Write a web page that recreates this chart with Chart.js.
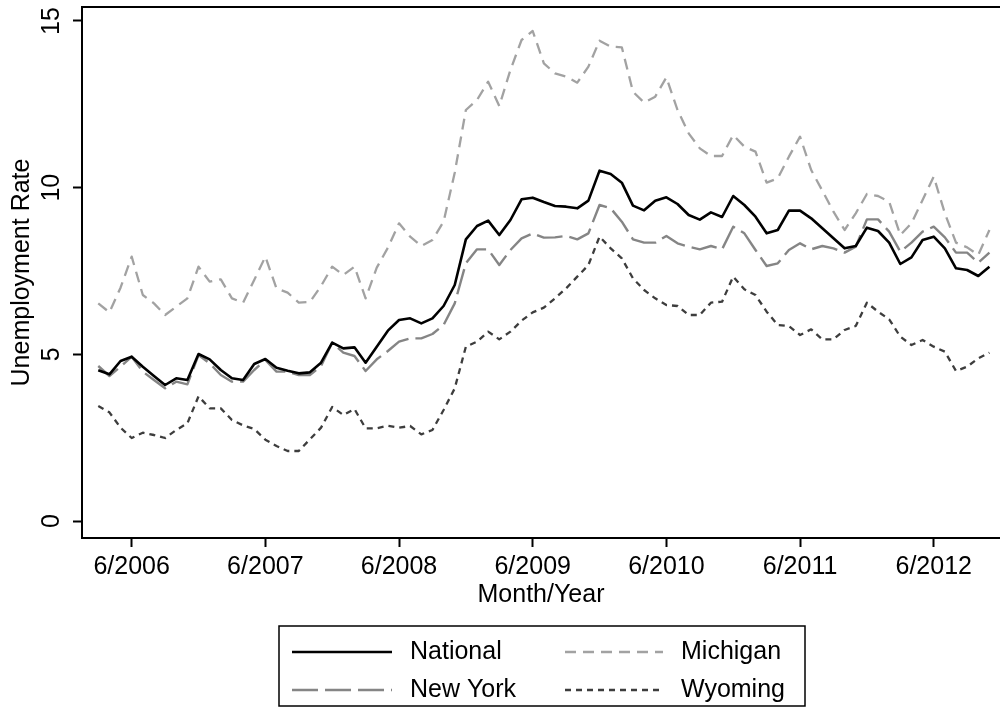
<!DOCTYPE html>
<html>
<head>
<meta charset="utf-8">
<script src="https://cdn.jsdelivr.net/npm/chart.js@4.4.0/dist/chart.umd.min.js"></script>
<style>
html,body{margin:0;padding:0;background:#fff}
#wrap{width:1000px;height:713px}
</style>
</head>
<body>
<div id="wrap"><canvas id="c" width="1000" height="713"></canvas></div>
<script>
const months = [
  "3/2006","4/2006","5/2006","6/2006","7/2006","8/2006","9/2006","10/2006","11/2006","12/2006",
  "1/2007","2/2007","3/2007","4/2007","5/2007","6/2007","7/2007","8/2007","9/2007","10/2007","11/2007","12/2007",
  "1/2008","2/2008","3/2008","4/2008","5/2008","6/2008","7/2008","8/2008","9/2008","10/2008","11/2008","12/2008",
  "1/2009","2/2009","3/2009","4/2009","5/2009","6/2009","7/2009","8/2009","9/2009","10/2009","11/2009","12/2009",
  "1/2010","2/2010","3/2010","4/2010","5/2010","6/2010","7/2010","8/2010","9/2010","10/2010","11/2010","12/2010",
  "1/2011","2/2011","3/2011","4/2011","5/2011","6/2011","7/2011","8/2011","9/2011","10/2011","11/2011","12/2011",
  "1/2012","2/2012","3/2012","4/2012","5/2012","6/2012","7/2012","8/2012","9/2012","10/2012","11/2012"
];

const national = [
  4.52,4.40,4.80,4.93,4.63,4.35,4.08,4.28,4.23,5.01,
  4.85,4.53,4.28,4.23,4.71,4.86,4.60,4.51,4.43,4.46,4.75,5.35,
  5.18,5.21,4.75,5.23,5.71,6.03,6.08,5.93,6.08,6.45,7.08,8.45,
  8.85,9.01,8.58,9.03,9.65,9.70,9.57,9.45,9.43,9.38,9.61,10.51,
  10.41,10.15,9.46,9.32,9.61,9.71,9.51,9.18,9.04,9.26,9.12,9.75,
  9.48,9.13,8.63,8.73,9.31,9.31,9.08,8.78,8.48,8.18,8.25,8.80,
  8.70,8.35,7.71,7.91,8.43,8.53,8.18,7.58,7.53,7.35,7.63
];

const michigan = [
  6.53,6.26,7.00,7.93,6.78,6.53,6.18,6.43,6.68,7.63,
  7.18,7.25,6.68,6.55,7.23,7.93,6.98,6.85,6.55,6.57,7.05,7.63,
  7.38,7.63,6.68,7.60,8.20,8.93,8.53,8.25,8.43,8.98,10.45,12.33,
  12.63,13.18,12.45,13.53,14.43,14.70,13.73,13.43,13.33,13.15,13.63,14.41,
  14.23,14.21,12.88,12.55,12.73,13.31,12.33,11.63,11.18,10.95,10.95,11.58,
  11.23,11.08,10.15,10.28,10.93,11.53,10.53,9.91,9.28,8.73,9.23,9.81,
  9.75,9.58,8.58,8.93,9.63,10.33,9.23,8.35,8.21,7.98,8.73
];

const newYork = [
  4.65,4.35,4.63,4.93,4.48,4.23,3.98,4.18,4.10,4.98,
  4.73,4.38,4.18,4.18,4.53,4.83,4.48,4.48,4.38,4.38,4.65,5.35,
  5.05,4.95,4.50,4.85,5.10,5.38,5.48,5.48,5.61,5.88,6.53,7.73,
  8.15,8.15,7.68,8.13,8.48,8.63,8.50,8.51,8.55,8.45,8.63,9.48,
  9.38,8.98,8.45,8.35,8.35,8.55,8.33,8.23,8.15,8.25,8.15,8.83,
  8.63,8.13,7.65,7.73,8.13,8.33,8.15,8.25,8.18,8.05,8.23,9.05,
  9.05,8.68,8.08,8.35,8.68,8.83,8.51,8.05,8.05,7.75,8.05
];

const wyoming = [
  3.45,3.26,2.80,2.49,2.65,2.58,2.49,2.73,2.93,3.74,
  3.38,3.38,3.03,2.87,2.76,2.44,2.25,2.10,2.10,2.45,2.80,3.42,
  3.18,3.36,2.78,2.78,2.86,2.80,2.85,2.60,2.73,3.33,3.98,5.23,
  5.38,5.68,5.45,5.68,6.01,6.26,6.40,6.68,6.98,7.33,7.68,8.53,
  8.18,7.88,7.28,6.93,6.68,6.48,6.45,6.18,6.18,6.55,6.58,7.33,
  6.95,6.78,6.28,5.88,5.85,5.58,5.75,5.45,5.45,5.73,5.85,6.55,
  6.28,6.05,5.53,5.28,5.43,5.23,5.08,4.50,4.63,4.88,5.05
];

const xTickLabels = ["6/2006","6/2007","6/2008","6/2009","6/2010","6/2011","6/2012"];
const yTickValues = [0, 5, 10, 15];
const xTitle = "Month/Year";
const yTitle = "Unemployment Rate";

// styles (kept apart from data)
const FONT = "'Liberation Sans', Arial, Helvetica, sans-serif";
const FS = 25;
const seriesStyle = {
  "National": {color: "#000000", dash: [], width: 2.6},
  "Michigan": {color: "#a2a2a2", dash: [11, 7], width: 2.3},
  "New York": {color: "#858585", dash: [26, 7], width: 2.4},
  "Wyoming":  {color: "#3d3d3d", dash: [6, 5], width: 2.3}
};
const seriesData = {"National": national, "Michigan": michigan, "New York": newYork, "Wyoming": wyoming};
const drawOrder = ["National", "New York", "Michigan", "Wyoming"];   // first = on top
const legendLayout = [["National", "Michigan"], ["New York", "Wyoming"]];

Chart.defaults.font.family = FONT;
Chart.defaults.color = "#000";

const datasets = drawOrder.map(name => ({
  label: name,
  data: seriesData[name].map((v, i) => ({x: i, y: v})),
  borderColor: seriesStyle[name].color,
  borderDash: seriesStyle[name].dash,
  borderWidth: seriesStyle[name].width,
  pointRadius: 0,
  fill: false,
  tension: 0,
  borderCapStyle: "butt",
  borderJoinStyle: "round"
}));

const bgPlugin = {
  id: "bg",
  beforeDraw(chart) {
    const ctx = chart.ctx;
    ctx.save();
    ctx.fillStyle = "#fff";
    ctx.fillRect(0, 0, chart.width, chart.height);
    ctx.restore();
  }
};

const framePlugin = {
  id: "frame",
  afterDraw(chart) {
    const ctx = chart.ctx, a = chart.chartArea;
    ctx.save();
    ctx.strokeStyle = "#000";
    ctx.lineWidth = 2;
    ctx.beginPath();
    ctx.moveTo(a.left - 1, a.top);
    ctx.lineTo(a.right, a.top);
    ctx.stroke();
    ctx.restore();
  }
};

const legendPlugin = {
  id: "customLegend",
  afterDraw(chart) {
    const ctx = chart.ctx;
    const box = {x: 279, y: 626, w: 526, h: 80};
    const rowY = [652, 690];
    const colLine = [[292, 392], [565, 663]];
    const colText = [410, 681];
    ctx.save();
    ctx.strokeStyle = "#000";
    ctx.lineWidth = 1.5;
    ctx.strokeRect(box.x, box.y, box.w, box.h);
    legendLayout.forEach((row, r) => {
      row.forEach((name, c) => {
        const st = seriesStyle[name];
        ctx.save();
        ctx.strokeStyle = st.color;
        ctx.lineWidth = st.width;
        ctx.setLineDash(st.dash);
        ctx.beginPath();
        ctx.moveTo(colLine[c][0], rowY[r]);
        ctx.lineTo(colLine[c][1], rowY[r]);
        ctx.stroke();
        ctx.restore();
        ctx.fillStyle = "#000";
        ctx.font = FS + "px " + FONT;
        ctx.textBaseline = "middle";
        ctx.textAlign = "left";
        ctx.fillText(name, colText[c], rowY[r]);
      });
    });
    ctx.restore();
  }
};

new Chart(document.getElementById("c"), {
  type: "line",
  data: {datasets},
  options: {
    responsive: false,
    animation: false,
    events: [],
    layout: {padding: {top: 7, left: 0, right: 0, bottom: 0}, autoPadding: false},
    plugins: {legend: {display: false}, tooltip: {enabled: false}},
    scales: {
      x: {
        type: "linear",
        min: -1.46,
        max: 80.95,
        afterBuildTicks(s) { s.ticks = xTickLabels.map(l => ({value: months.indexOf(l)})); },
        afterFit(s) { s.height = 175; s.paddingLeft = 0; s.paddingRight = 0; },
        ticks: {
          autoSkip: false, maxRotation: 0, minRotation: 0, padding: 5,
          color: "#000", font: {size: FS},
          callback(v) { return months[v]; }
        },
        grid: {drawOnChartArea: false, drawTicks: true, tickLength: 9, tickColor: "#000", tickWidth: 2},
        border: {display: true, color: "#000", width: 2},
        title: {display: true, text: xTitle, color: "#000", font: {size: FS}, padding: {top: 0, bottom: 103}}
      },
      y: {
        min: -0.51,
        max: 15.42,
        afterBuildTicks(s) { s.ticks = yTickValues.map(v => ({value: v})); },
        afterFit(s) { s.width = 82; s.paddingTop = 0; s.paddingBottom = 0; },
        ticks: {
          minRotation: 90, maxRotation: 90, crossAlign: "center", padding: 7,
          color: "#000", font: {size: FS},
          callback(v) { return String(v); }
        },
        grid: {drawOnChartArea: false, drawTicks: true, tickLength: 9, tickColor: "#000", tickWidth: 2},
        border: {display: true, color: "#000", width: 2},
        title: {display: true, text: yTitle, color: "#000", font: {size: FS}, padding: {top: 7, bottom: 0}}
      }
    }
  },
  plugins: [bgPlugin, framePlugin, legendPlugin]
});
</script>
</body>
</html>
